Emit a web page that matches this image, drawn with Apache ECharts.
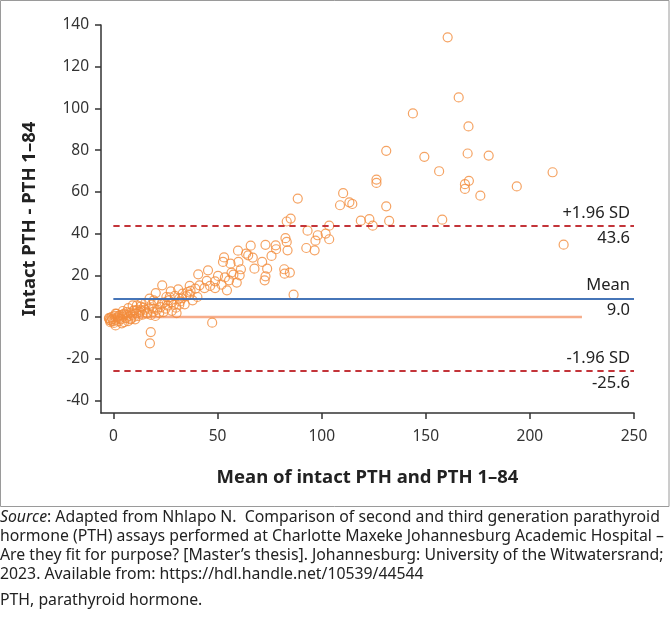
<!DOCTYPE html>
<html>
<head>
<meta charset="utf-8">
<script src="https://cdn.jsdelivr.net/npm/echarts@6/dist/echarts.min.js"></script>
<style>
html,body{margin:0;padding:0;background:#fff;}
#chart{width:670px;height:618px;}
</style>
</head>
<body>
<div id="chart"></div>
<script>
// Mean of intact PTH and PTH 1–84 (x) and difference (y)
const meanVals = [
160.5,165.8,143.8,170.5,131.0,149.3,170.1,180.2,156.4,210.9,170.7,168.8,168.8,193.7,176.2,
126.3,126.3,110.3,88.5,108.8,113.3,114.7,131.0,118.8,122.9,124.5,132.4,157.9,216.2,
83.2,85.1,103.6,93.2,101.9,98.1,103.6,97.0,92.6,96.6,82.6,83.2,83.6,73.0,77.9,78.1,
65.9,59.8,63.7,64.7,66.9,75.9,71.4,67.7,73.8,73.0,72.6,82.0,82.2,84.7,86.5,
53.1,52.6,56.2,60.0,61.2,56.7,57.6,60.6,53.5,50.2,55.5,59.2,51.9,45.4,40.7,44.8,48.8,
54.5,48.8,46.4,41.3,39.3,36.6,43.7,35.6,40.3,36.6,31.1,27.5,33.2,23.4,20.3,25.4,29.5,
31.6,26.5,27.9,34.2,31.6,23.4,19.3,17.3,15.3,18.3,22.6,24.0,30.3,19.3,13.2,11.2,9.2,
7.1,10.0,13.2,16.3,20.1,6.3,4.5,4.1,1.0,2.2,-2.0,1.0,5.1,8.1,10.4,47.4,17.9,17.5,
-2.2,-1.8,-1.5,-1.0,-0.5,0.0,0.5,1.0,1.5,2.0,2.5,3.0,3.5,4.0,4.5,5.0,6.0,6.5,7.0,7.5,
8.0,8.5,9.0,9.5,10.0,11.0,12.0,12.5,14.0,15.0,16.0,17.0,18.0,19.0,21.0,22.0,25.0,26.0,
28.0,30.0,32.0,33.0,35.0,37.0,38.0,24.5,27.0,29.0,21.5,14.5,13.0,11.5,-1.2,0.2,2.8
];
const diffVals = [
134.1,105.3,97.6,91.4,79.7,76.8,78.4,77.4,69.9,69.4,65.3,63.7,61.4,62.6,58.2,
65.9,64.3,59.4,56.8,53.6,55.0,54.2,53.1,46.2,46.9,43.8,46.1,46.7,34.7,
45.8,47.2,43.8,41.4,40.0,39.2,37.3,36.6,33.1,32.0,37.8,36.0,32.0,34.6,34.4,32.5,
34.2,31.8,30.4,29.6,28.5,29.3,26.4,23.2,23.2,19.5,17.6,22.9,20.8,21.3,10.7,
28.6,26.4,25.6,26.4,22.9,21.3,20.3,20.0,19.0,19.7,17.6,16.5,15.5,22.4,20.5,17.3,17.1,
12.8,13.9,14.9,15.2,13.6,14.9,13.9,12.0,9.6,10.7,13.3,12.3,11.2,15.2,11.5,9.6,10.1,
8.8,8.0,6.9,6.1,5.9,6.4,8.0,8.8,6.7,5.9,4.8,2.4,1.9,4.0,6.4,5.6,5.6,
4.3,3.2,3.2,1.6,0.5,2.4,2.9,1.1,1.6,0.5,-0.8,-4.0,-2.4,-1.1,-1.1,-2.7,-7.2,-12.6,
-0.5,-1.5,-2.5,0.0,-1.0,-2.0,0.5,-1.2,1.5,-0.3,-2.0,0.8,-1.0,-3.0,0.2,1.5,-0.5,1.0,-2.0,0.5,
2.0,-0.8,1.0,3.0,0.2,1.8,0.5,2.5,1.2,3.5,2.0,4.0,1.0,2.5,3.5,2.0,4.0,5.5,
3.0,4.5,7.5,9.0,10.0,12.5,8.0,7.0,9.5,6.0,6.5,4.5,5.0,3.5,-1.8,-2.8,-0.6
];
const xTicks = [0, 50, 100, 150, 200, 250];
const yTicks = [-40, -20, 0, 20, 40, 60, 80, 100, 120, 140];
const upperLoA = 43.6;
const meanDiff = 9.0;
const lowerLoA = -25.6;
const zeroLineEnd = 225;
const lineStart = 0;
const lineEnd = 250;

const points = meanVals.map((x, i) => [x, diffVals[i]]);
const FONT = '"Noto Sans", "Open Sans", sans-serif';

function refLine(value, nameTop, color, type) {
  const lbl = (text, pos) => ({
    show: true, position: pos, formatter: text, distance: 4,
    color: '#222', fontSize: 16.5, fontFamily: FONT
  });
  return [
    [{ coord: [lineStart, value], label: lbl(nameTop, 'insideEndTop'), lineStyle: { color, type, width: 1.6 } },
     { coord: [lineEnd, value] }],
    [{ coord: [lineStart, value], label: lbl(value.toFixed(1), 'insideEndBottom'), lineStyle: { color, type, width: 1.6 } },
     { coord: [lineEnd, value] }]
  ];
}

const chart = echarts.init(document.getElementById('chart'), null, { renderer: 'canvas' });
chart.setOption({
  animation: false,
  backgroundColor: '#fff',
  grid: { left: 101, right: 36, top: 25, bottom: 205 },
  xAxis: {
    type: 'value', min: -6, max: 250,
    name: 'Mean of intact PTH and PTH 1–84', nameLocation: 'middle', nameGap: 55,
    nameTextStyle: { fontSize: 18.5, fontWeight: 'bold', color: '#222', fontFamily: FONT },
    axisLine: { show: true, onZero: false, lineStyle: { color: '#333', width: 1.5 } },
    axisTick: { show: true, length: 6, customValues: xTicks, lineStyle: { color: '#333', width: 1.5 } },
    axisLabel: { customValues: xTicks, margin: 16, fontSize: 15.5, color: '#333', fontFamily: FONT },
    splitLine: { show: false }
  },
  yAxis: {
    type: 'value', min: -46, max: 140,
    name: 'Intact PTH - PTH 1–84', nameLocation: 'middle', nameGap: 62, nameRotate: 90,
    nameTextStyle: { fontSize: 18.5, fontWeight: 'bold', color: '#222', fontFamily: FONT },
    axisLine: { show: true, onZero: false, lineStyle: { color: '#333', width: 1.5 } },
    axisTick: { show: true, length: 6, customValues: yTicks, lineStyle: { color: '#333', width: 1.5 } },
    axisLabel: { customValues: yTicks, margin: 12, fontSize: 15.5, color: '#333', fontFamily: FONT },
    splitLine: { show: false }
  },
  series: [
    {
      type: 'line', data: [[lineStart, 0], [zeroLineEnd, 0]], symbol: 'none', z: 1,
      lineStyle: { color: '#f6ad8b', width: 2.5 }, silent: true
    },
    {
      type: 'scatter', data: points, symbol: 'circle', symbolSize: 9, z: 3,
      itemStyle: { color: 'rgba(255,255,255,0)', borderColor: '#f28c3c', borderWidth: 1.2 }
    },
    {
      type: 'line', data: [], z: 2,
      markLine: {
        symbol: 'none', silent: true, animation: false,
        data: [
          ...refLine(upperLoA, '+1.96 SD', '#c0272d', [6, 5]),
          ...refLine(meanDiff, 'Mean', '#3a6db3', 'solid'),
          ...refLine(lowerLoA, '-1.96 SD', '#c0272d', [6, 5])
        ]
      }
    }
  ],
  graphic: [
    { type: 'rect', shape: { x: 0.5, y: 0.5, width: 668.5, height: 506 }, style: { fill: 'none', stroke: '#9a9a9a', lineWidth: 1 }, z: -1 },
    {
      type: 'text', left: 0, top: 508,
      style: {
        text: '{i|Source}: Adapted from Nhlapo N.  Comparison of second and third generation parathyroid\nhormone (PTH) assays performed at Charlotte Maxeke Johannesburg Academic Hospital –\nAre they fit for purpose? [Master’s thesis]. Johannesburg: University of the Witwatersrand;\n2023. Available from: https://hdl.handle.net/10539/44544',
        fontSize: 15.8, fontFamily: FONT, fill: '#222', lineHeight: 19,
        rich: { i: { fontStyle: 'italic', fontSize: 15.8, fontFamily: FONT, fill: '#222', lineHeight: 19 } }
      }
    },
    {
      type: 'text', left: 0, top: 592,
      style: { text: 'PTH, parathyroid hormone.', fontSize: 15.8, fontFamily: FONT, fill: '#222' }
    }
  ]
});
</script>
</body>
</html>
